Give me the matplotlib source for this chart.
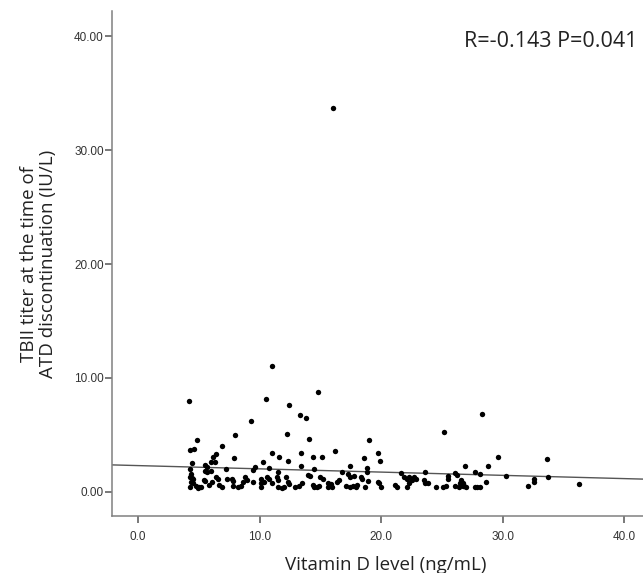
import matplotlib
matplotlib.use("Agg")
import matplotlib.pyplot as plt
import numpy as np

# Vitamin D level (ng/mL)
vitd = [
    4.2, 8.0, 4.85, 6.9, 4.3, 4.6, 7.9, 6.4, 6.2, 6.0, 6.3, 4.45, 5.5, 5.65, 7.2, 4.3, 5.5, 5.65, 6.0, 4.35,
    4.3, 4.45, 4.55, 6.4, 6.6, 7.3, 7.7, 7.8, 5.4, 5.5, 4.35, 4.55, 6.7, 6.9, 7.8, 4.8, 5.0, 5.2, 4.9, 4.3,
    8.25, 6.1, 5.85,
    10.5, 12.4, 9.3, 12.25, 11.0, 11.0, 11.6, 10.3, 12.3, 9.6, 9.45, 10.8, 11.5, 8.8, 8.95, 8.6, 8.45, 9.45,
    10.1, 10.35, 10.1, 10.6, 10.8, 10.1, 11.0, 11.45, 11.55, 12.2, 12.3, 12.45, 11.5, 11.8, 12.0, 12.9,
    16.0, 14.8, 13.3, 13.8, 14.05, 13.4, 16.2, 14.4, 15.1, 13.4, 14.5, 17.4, 16.8, 13.95, 14.15, 15.0, 15.2,
    17.25, 17.4, 13.5, 13.2, 15.6, 15.9, 14.35, 14.5, 14.7, 14.9, 16.4, 16.55, 15.6, 15.95, 17.1, 17.4, 17.65,
    19.0, 19.7, 18.6, 19.9, 18.85, 18.8, 21.6, 17.8, 18.35, 18.45, 18.9, 19.7, 19.8, 21.9, 22.1, 22.3, 22.5,
    22.3, 18.0, 17.9, 18.7, 20.0, 21.1, 21.3, 22.1,
    25.2, 26.9, 23.6, 26.1, 26.2, 25.5, 25.5, 22.7, 22.9, 23.5, 23.6, 23.85, 26.6, 26.5, 24.5, 25.05, 25.3,
    26.1, 26.4, 26.8, 27.0,
    28.3, 29.6, 33.6, 28.8, 27.7, 28.1, 30.3, 33.7, 32.6, 32.6, 28.6, 32.1, 36.3, 26.7, 26.7, 27.7, 27.9, 28.1,
]

# TBII titer at ATD discontinuation (IU/L)
tbii = [
    8.0, 5.0, 4.5, 4.0, 3.65, 3.75, 2.95, 3.3, 3.05, 2.6, 2.6, 2.5, 2.3, 2.2, 2.0, 1.95, 1.8, 1.75, 1.85, 1.55,
    1.3, 1.2, 1.1, 1.3, 1.15, 1.1, 1.15, 0.95, 1.0, 0.95, 0.85, 0.8, 0.6, 0.45, 0.5, 0.5, 0.4, 0.4, 0.3, 0.45,
    0.4, 0.85, 0.6,
    8.1, 7.6, 6.2, 5.1, 11.0, 3.4, 3.05, 2.6, 2.7, 2.2, 1.9, 2.05, 1.75, 1.25, 1.0, 0.85, 0.5, 0.85,
    1.1, 0.85, 0.75, 1.25, 1.1, 0.4, 0.75, 1.3, 1.0, 1.25, 0.85, 0.65, 0.4, 0.3, 0.4, 0.4,
    33.7, 8.75, 6.7, 6.5, 4.6, 3.4, 3.6, 3.07, 3.07, 2.25, 1.95, 2.25, 1.75, 1.45, 1.35, 1.25, 1.1,
    1.55, 1.3, 0.75, 0.5, 0.8, 0.65, 0.6, 0.4, 0.4, 0.5, 0.85, 1.0, 0.4, 0.4, 0.5, 0.4, 0.5,
    4.5, 3.4, 2.95, 2.65, 2.05, 1.75, 1.65, 1.35, 1.25, 1.1, 0.95, 0.85, 0.8, 1.3, 1.1, 1.3, 1.0,
    0.8, 0.6, 0.4, 0.4, 0.4, 0.6, 0.45, 0.4,
    5.2, 2.25, 1.75, 1.65, 1.45, 1.35, 1.15, 1.25, 1.1, 1.0, 0.8, 0.75, 1.0, 0.8, 0.4, 0.4, 0.5,
    0.5, 0.4, 0.5, 0.4,
    6.85, 3.05, 2.9, 2.25, 1.7, 1.55, 1.35, 1.25, 1.1, 0.85, 0.85, 0.5, 0.7, 0.73, 0.5, 0.4, 0.4, 0.4,
]

# fitted regression line
fit_intercept = 2.29
fit_slope = -0.0286

x_ticks = [0.0, 10.0, 20.0, 30.0, 40.0]
y_ticks = [0.0, 10.0, 20.0, 30.0, 40.0]
x_label = "Vitamin D level (ng/mL)"
y_label = "TBII titer at the time of\nATD discontinuation (IU/L)"
stat_text = "R=-0.143 P=0.041"

fig = plt.figure(figsize=(6.43, 5.73), dpi=100)
ax = fig.add_axes([112 / 643, 1 - 516 / 573, 1 - 112 / 643, (516 - 11) / 573])

xlim = (-2.14, 41.53)
ylim = (-2.14, 42.24)
ax.set_xlim(*xlim)
ax.set_ylim(*ylim)

xs = np.array(xlim)
ax.plot(xs, fit_intercept + fit_slope * xs, color="#555555", lw=1.0, zorder=1)
ax.scatter(vitd, tbii, s=15, color="black", linewidths=0, zorder=2)

for s in ["top", "right"]:
    ax.spines[s].set_visible(False)
for s in ["left", "bottom"]:
    ax.spines[s].set_color("#808080")
    ax.spines[s].set_linewidth(1.1)

ax.set_xticks(x_ticks)
ax.set_xticklabels([f"{v:.1f}" for v in x_ticks])
ax.set_yticks(y_ticks)
ax.set_yticklabels([f"{v:.2f}" for v in y_ticks])
ax.tick_params(axis="both", direction="out", length=5, width=1.1, color="#555555",
               labelsize=8.5, labelcolor="#333333")
ax.tick_params(axis="x", pad=6)
ax.tick_params(axis="y", pad=1)
for lab in ax.get_xticklabels() + ax.get_yticklabels():
    lab.set_family(["Liberation Sans", "DejaVu Sans"])

lab_font = ["Open Sans", "DejaVu Sans"]
ax.set_xlabel(x_label, fontsize=13.5, family=lab_font, color="#222222")
ax.xaxis.set_label_coords((386 - 112) / 531, -(565 - 516) / 505)
ax.xaxis.label.set_va("center")
ax.set_ylabel(y_label, fontsize=13.5, family=lab_font, color="#222222",
              linespacing=1.1)
ax.yaxis.set_label_coords(-(112 - 38.5) / 531, 0.5)
ax.yaxis.label.set_va("center")

ax.text(41.1, 39.6, stat_text, ha="right", va="center", fontsize=15.5,
        family=lab_font, color="#222222")

fig.savefig("out.png", dpi=100)
